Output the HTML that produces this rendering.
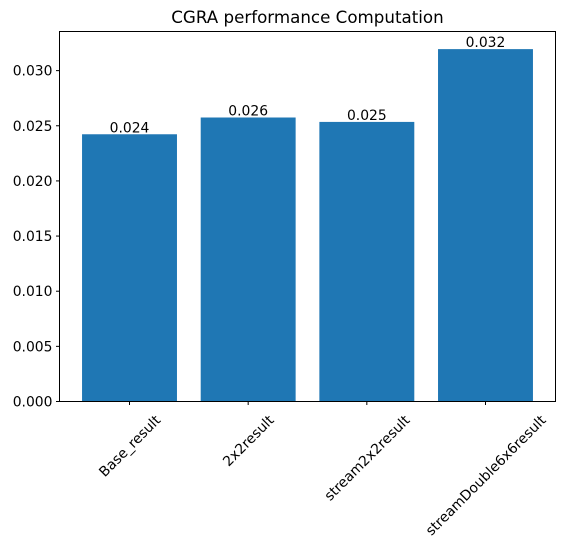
<!DOCTYPE html>
<html><head><meta charset="utf-8"><style>
body{margin:0;background:#fff}
svg{display:block;font-family:"DejaVu Sans","Liberation Sans",sans-serif}
</style></head><body>
<svg id="chart" width="565" height="546">
<rect width="565" height="546" fill="#fff"/>
<text x="307.5" y="23" font-size="16.7" text-anchor="middle" fill="#000">CGRA performance Computation</text>
<g id="bars"></g>
<g id="yaxis"></g>
<g id="xaxis"></g>
<rect x="59.5" y="31.5" width="496" height="370" fill="none" stroke="#000" stroke-width="1"/>
</svg>
<script>
const categories=["Base_result","2x2result","stream2x2result","streamDouble6x6result"];
const values=[0.02423,0.02575,0.02535,0.03195];
const labels=["0.024","0.026","0.025","0.032"];
const yTicks=[0,0.005,0.010,0.015,0.020,0.025,0.030];
const yTickLabels=["0.000","0.005","0.010","0.015","0.020","0.025","0.030"];
const NS="http://www.w3.org/2000/svg";
const L=59.5,R=555.5,T=31.5,B=401.5;
const n=categories.length;
const xmin=-0.59,xmax=n-1+0.59;
const yMax=Math.max(...values)*1.05;
const xs=i=>L+(i-xmin)/(xmax-xmin)*(R-L);
const ys=v=>B-v/yMax*(B-T);
const bw=0.8*(R-L)/(xmax-xmin);
function mk(t,a,p){const e=document.createElementNS(NS,t);for(const k in a)e.setAttribute(k,a[k]);p.appendChild(e);return e;}
const gb=document.getElementById('bars'),gy=document.getElementById('yaxis'),gx=document.getElementById('xaxis');
values.forEach((v,i)=>{
 const r=mk('rect',{x:xs(i)-bw/2,y:ys(v),width:bw,height:B-ys(v),fill:'#1f77b4'},gb);
 
 
 const t=mk('text',{x:xs(i),y:ys(v)-2,'font-size':13.9,'text-anchor':'middle',fill:'#000'},gb);
 t.textContent=labels[i];
 
 
});
yTicks.forEach((v,i)=>{
 const y=ys(v);
 const l=mk('line',{x1:L-3.5,x2:L,y1:y,y2:y,stroke:'#000'},gy);
 
 
 const t=mk('text',{x:L-7,y:y+5,'font-size':13.9,'text-anchor':'end',fill:'#000'},gy);
 t.textContent=yTickLabels[i];
 
 
});
categories.forEach((c,i)=>{
 const x=xs(i);
 const l=mk('line',{x1:x,x2:x,y1:B,y2:B+3.5,stroke:'#000'},gx);
 
 
 const t=mk('text',{x:0,y:0,'font-size':13.9,'text-anchor':'middle',fill:'#000'},gx);
 t.textContent=c;
 
 
 const w=t.getComputedTextLength(),h=14;
 const bh=(w+h)*Math.SQRT1_2;
 const cy=B+11+bh/2;
 t.setAttribute('transform','translate('+x+','+cy+') rotate(-45) translate(0,5)');
});
</script>
</body></html>
